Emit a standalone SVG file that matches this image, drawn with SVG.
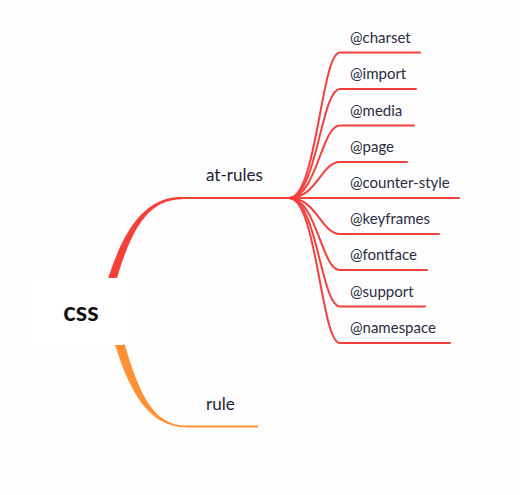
<svg xmlns="http://www.w3.org/2000/svg" width="520" height="495" viewBox="0 0 520 495">
<style>
.lbl{font-family:Lato,"Liberation Sans",sans-serif;font-size:15px;fill:#2b2d42}
.l1{font-family:Lato,"Liberation Sans",sans-serif;font-size:17px;fill:#1f2137}
.sub{fill:none;stroke:#f4403c;stroke-width:2;stroke-linecap:round}
</style>
<rect width="520" height="495" fill="#fdfdfd"/>
<g id="connectors">
<path d="M103,296 C121,229 145,196.8 182,196.8 L182,199.2 C147,199.2 129,231 112,296 Z" fill="#f5403a"/>
<line x1="181" y1="198" x2="291" y2="198" stroke="#f5403a" stroke-width="2"/>
<path d="M110,328 C129,396 150,427.3 187,427.3 L187,425.7 C152,425.7 138,393 120,328 Z" fill="#ff9033"/>
<line x1="186" y1="426.5" x2="258" y2="426.5" stroke="#ff9033" stroke-width="2"/>
<g class="sub">
<path d="M289,198 C317,198 321,52.5 340,52.5 L420,52.5"/>
<path d="M289,198 C317,198 321,89 340,89 L416,89"/>
<path d="M289,198 C317,198 321,125.5 340,125.5 L414,125.5"/>
<path d="M289,198 C317,198 321,162 340,162 L407,162"/>
<path d="M289,198 L459,198"/>
<path d="M289,198 C317,198 321,234 340,234 L439,234"/>
<path d="M289,198 C317,198 321,270 340,270 L427,270"/>
<path d="M289,198 C317,198 321,306.5 340,306.5 L425,306.5"/>
<path d="M289,198 C317,198 321,343 340,343 L450,343"/>
</g>
</g>
<g id="css">
<rect x="30" y="278" width="99" height="67" rx="8" fill="#ffffff"/>
<text x="81" y="321" text-anchor="middle" font-family="Lato,'Liberation Sans',sans-serif" font-weight="bold" font-size="26" fill="#0d0d0d">css</text>
</g>
<g id="at-rules"><text class="l1" x="206" y="181">at-rules</text></g>
<g id="rule"><text class="l1" x="206" y="410">rule</text></g>
<g id="charset"><text class="lbl" x="350" y="42.5">@charset</text></g>
<g id="import"><text class="lbl" x="350" y="79">@import</text></g>
<g id="media"><text class="lbl" x="350" y="115.5">@media</text></g>
<g id="page"><text class="lbl" x="350" y="152">@page</text></g>
<g id="counter-style"><text class="lbl" x="350" y="188">@counter-style</text></g>
<g id="keyframes"><text class="lbl" x="350" y="224">@keyframes</text></g>
<g id="fontface"><text class="lbl" x="350" y="260">@fontface</text></g>
<g id="support"><text class="lbl" x="350" y="296.5">@support</text></g>
<g id="namespace"><text class="lbl" x="350" y="333">@namespace</text></g>
</svg>
